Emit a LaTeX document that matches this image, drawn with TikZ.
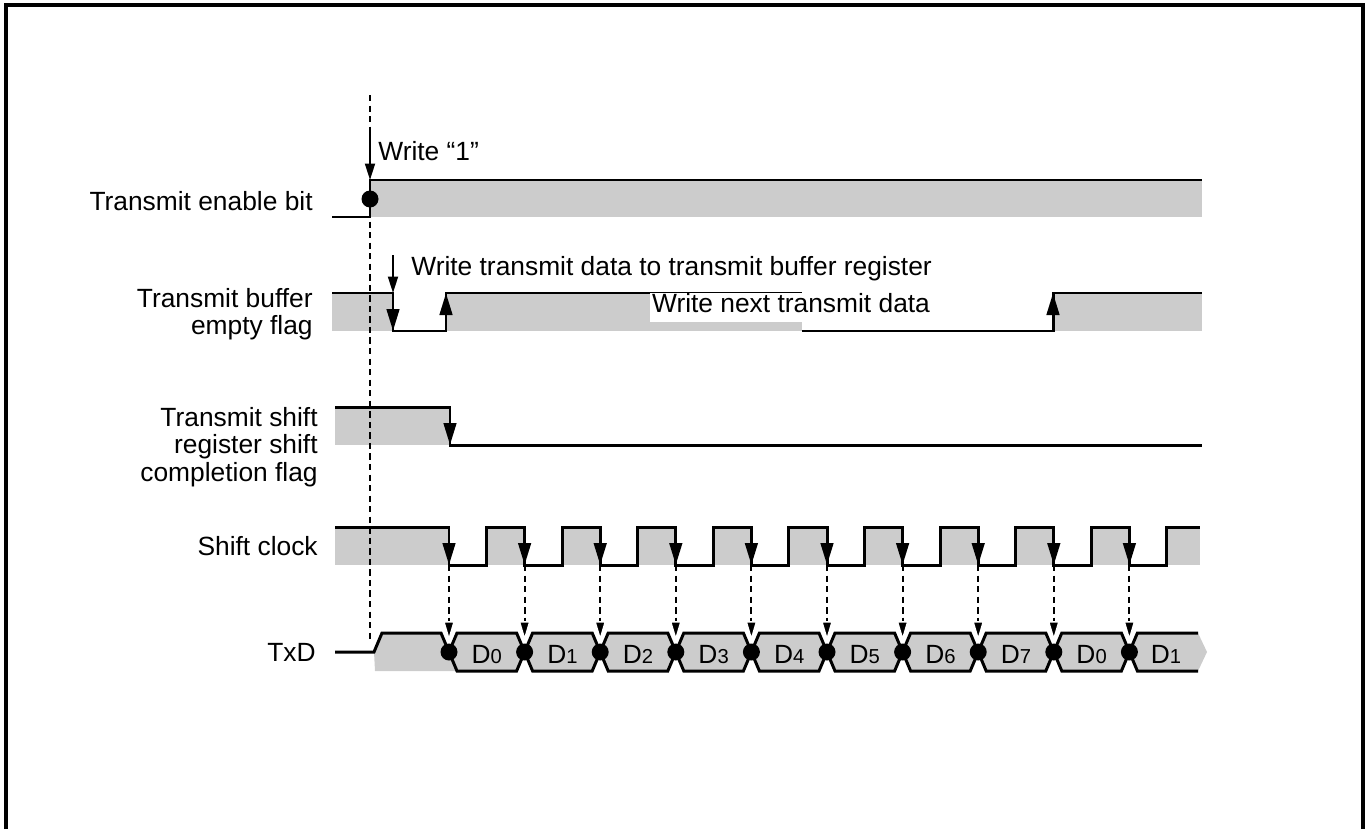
\documentclass[tikz,border=0pt]{standalone}
\usepackage{fontspec}
\setmainfont{Liberation Sans}
\usetikzlibrary{arrows.meta}
\usetikzlibrary{math}

\definecolor{sigfill}{gray}{0.8}
\newcommand{\bitsub}[1]{{\fontsize{11.5}{12}\selectfont #1}}

\tikzset{
  sig/.style={line width=1.7pt},
  edgearrow/.style={line width=1.7pt, -{Triangle[length=0.44cm, width=0.25cm]}},
  notearrow/.style={line width=1.1pt, -{Triangle[length=0.33cm, width=0.2cm]}},
  guide/.style={line width=1.1pt, dash pattern=on 3.6pt off 2.4pt},
  guidearrow/.style={guide, -{Triangle[length=0.42cm, width=0.24cm, fill=black, color=white, line width=0.9pt]}},
  sigtext/.style={inner sep=0pt, font=\fontsize{15}{15.6}\selectfont},
  siglabel/.style={sigtext, align=right},
  notelabel/.style={sigtext, anchor=base west},
  bit/.style={sigtext, anchor=base},
}

\begin{document}
\begin{tikzpicture}[x=0.02cm, y=-0.02cm]
\tikzmath{
\fa=449;   % first falling edge of the shift clock
\p=75.6;   % clock period
\hw=37.5;  % low time of the clock
\b=8;      % bevel of the data cells
}
\useasboundingbox (0,0) rectangle (1370,829);

% frame
\draw[line width=2.8pt] (6,829) -- (6,5) -- (1363,5) -- (1363,829);

% gray levels
\fill[sigfill] (370,180) rectangle (1202,217);
\fill[sigfill] (332,293) rectangle (393,331);
\fill[sigfill] (446,293) rectangle (802,331);
\fill[sigfill] (1053,293) rectangle (1202,331);
\fill[sigfill] (335,407) rectangle (450,445);
\fill[sigfill] (335,527) rectangle (\fa,565);
\foreach \k in {0,...,8}
  \fill[sigfill] ({\fa+\k*\p+\hw},527) rectangle ({\fa+(\k+1)*\p},565);
\fill[sigfill] ({\fa+9*\p+\hw},527) rectangle (1200,565);
\fill[sigfill] (374,652) -- (382,633) -- (441,633) -- (449,652) -- (457,671) -- (375,671) -- cycle;

% write timing
\draw[guide] (370,95) -- (370,641);

% transmit enable bit
\draw[sig] (332,217) -- (370,217) -- (370,180) -- (1202,180);
\draw[notearrow] (370,133) -- (370,180);
\fill (370,199) circle (0.17cm);

% transmit buffer empty flag
\draw[sig] (332,293) -- (393,293) -- (393,331) -- (446,331) -- (446,293) -- (802,293);
\draw[sig] (802,331) -- (1053,331) -- (1053,293) -- (1202,293);
\draw[edgearrow] (393,295) -- (393,331);
\draw[edgearrow] (446,329) -- (446,293);
\draw[edgearrow] (1053,329) -- (1053,293);
\draw[notearrow] (393,255) -- (393,293);

% transmit shift register shift completion flag
\draw[sig] (335,407) -- (450,407) -- (450,445) -- (1202,445);
\draw[edgearrow] (450,409) -- (450,445);

% shift clock
\draw[sig] (335,527) -- (\fa,527)
  foreach \k in {0,...,8} { -- ++(0,38) -- ++(\hw,0) -- ++(0,-38) -- ++({\p-\hw},0) }
  -- ++(0,38) -- ++(\hw,0) -- ++(0,-38) -- (1200,527);
\foreach \k in {0,...,9}
  \draw[edgearrow] ({\fa+\k*\p},529) -- ({\fa+\k*\p},565);

% TxD
\draw[sig] (335,652) -- (374,652) -- (382,633) -- (441,633) -- (449,652);
\foreach \k/\d in {0/0,1/1,2/2,3/3,4/4,5/5,6/6,7/7,8/0} {
  \filldraw[sig, fill=sigfill] ({\fa+\k*\p},652) -- ({\fa+\k*\p+\b},633)
    -- ({\fa+(\k+1)*\p-\b},633) -- ({\fa+(\k+1)*\p},652)
    -- ({\fa+(\k+1)*\p-\b},671) -- ({\fa+\k*\p+\b},671) -- cycle;
  \node[bit] (bit\k) at ({\fa+(\k+0.5)*\p},663) {D\bitsub{\d}};
}
\fill[sigfill] ({\fa+9*\p},652) -- ({\fa+9*\p+\b},633) -- (1198,633) -- (1207,652)
  -- (1198,671) -- ({\fa+9*\p+\b},671) -- cycle;
\draw[sig] (1198,633) -- ({\fa+9*\p+\b},633) -- ({\fa+9*\p},652)
  -- ({\fa+9*\p+\b},671) -- (1198,671);
\node[bit] (bit9) at (1166,663) {D\bitsub{1}};

\foreach \k in {0,...,9} {
  \draw[guidearrow] ({\fa+\k*\p},565) -- ({\fa+\k*\p},642);
  \fill ({\fa+\k*\p},652) circle (0.17cm);
}

% signal names
\node[siglabel, anchor=base east] (lblEnable) at (313,210) {Transmit enable bit};
\node[siglabel, anchor=north east] (lblBuffer) at (313,288) {Transmit buffer\\empty flag};
\node[siglabel, anchor=north east] (lblShiftFlag) at (318,407) {Transmit shift\\register shift\\completion flag};
\node[siglabel, anchor=base east] (lblClock) at (318,555) {Shift clock};
\node[siglabel, anchor=base east] (lblTxD) at (316,661) {TxD};

% notes
\node[notelabel] (noteWrite) at (378,160) {Write “1”};
\node[notelabel] (noteData) at (411,275) {Write transmit data to transmit buffer register};
\node[notelabel, fill=white, inner xsep=1pt, text height=11pt, text depth=5.6pt] (noteNext) at (650,312) {Write next transmit data};
\end{tikzpicture}
\end{document}
